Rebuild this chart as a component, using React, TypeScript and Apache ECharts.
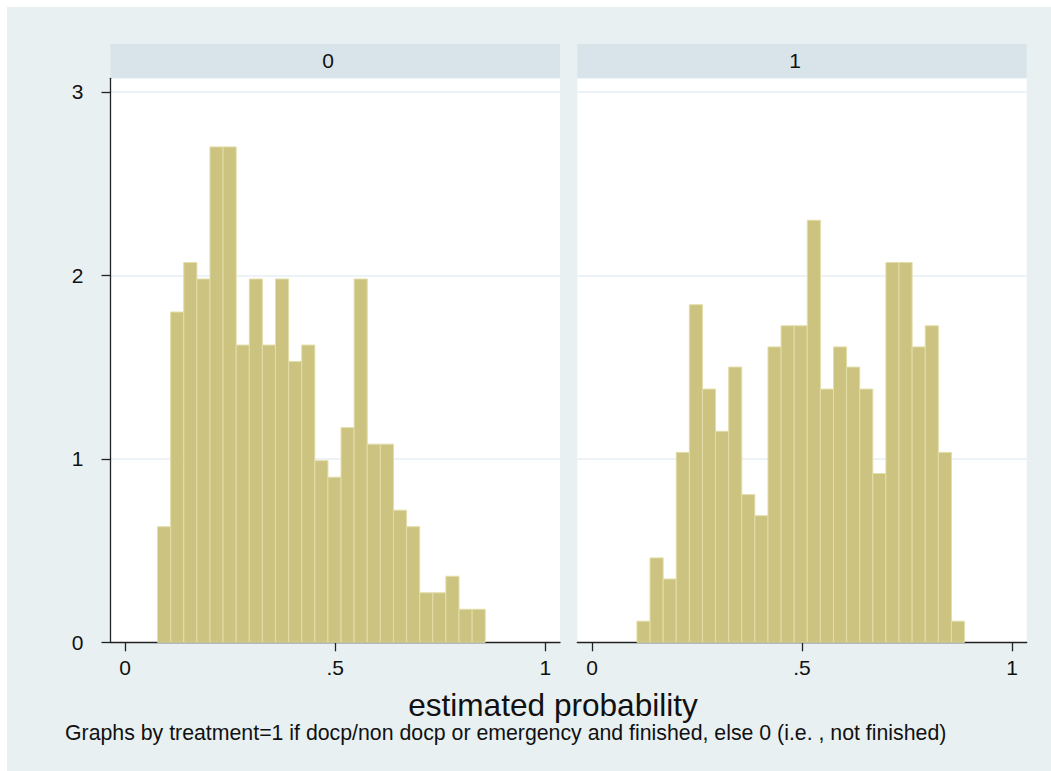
import React, { useEffect, useRef } from "react";
import * as echarts from "echarts";

const panelLabels = ["0", "1"];
const leftBinStart = 0.077;
const rightBinStart = 0.107;
const binWidth = 0.0312;
const leftDensity = [0.63, 1.8, 2.07, 1.98, 2.7, 2.7, 1.62, 1.98, 1.62, 1.98, 1.53, 1.62, 0.99, 0.9, 1.17, 1.98, 1.08, 1.08, 0.72, 0.63, 0.27, 0.27, 0.36, 0.18, 0.18];
const rightDensity = [0.115, 0.46, 0.345, 1.035, 1.84, 1.38, 1.15, 1.5, 0.805, 0.69, 1.61, 1.725, 1.725, 2.3, 1.38, 1.61, 1.5, 1.38, 0.92, 2.07, 2.07, 1.61, 1.725, 1.035, 0.115];
const xTicks = [0, 0.5, 1];
const yTicks = [0, 1, 2, 3];
const xTitle = "estimated probability";
const note = "Graphs by treatment=1 if docp/non docp or emergency and finished, else 0 (i.e. , not finished)";

const FONT = "'Liberation Sans', Arial, sans-serif";
const BG = "#E8F0F2";
const STRIP = "#D8E4EA";
const GRID = "#E6EEF2";
const AXIS = "#222222";
const FILL = "#CBC37F";
const EDGE = "#E3DDA8";

function bins(start: number, vals: number[]) {
  return vals.map((v, i) => [start + i * binWidth, start + (i + 1) * binWidth, v]);
}

const renderBar = (params: any, api: any) => {
  const p0 = api.coord([api.value(0), api.value(2)]);
  const p1 = api.coord([api.value(1), 0]);
  return {
    type: "rect",
    shape: { x: p0[0], y: p0[1], width: p1[0] - p0[0], height: p1[1] - p0[1] },
    style: { fill: FILL, stroke: EDGE, lineWidth: 1 },
  };
};

export default function App() {
  const ref = useRef<HTMLDivElement>(null);
  useEffect(() => {
    if (!ref.current) return;
    const chart = echarts.init(ref.current, undefined, { renderer: "svg" });
    const gridBase = { show: true, backgroundColor: "#FFFFFF", borderWidth: 0, top: 71.3, height: 564 };
    const grids = [
      { ...gridBase, left: 103.5, width: 449.5 },
      { ...gridBase, left: 570.3, width: 449.4 },
    ];
    const xAxisBase = (gi: number) => ({
      type: "value",
      gridIndex: gi,
      min: -0.035,
      max: 1.035,
      axisLine: { show: true, onZero: false, lineStyle: { color: AXIS, width: 1.3 } },
      axisTick: { show: true, customValues: xTicks, length: 9, lineStyle: { color: AXIS, width: 1.3 } },
      axisLabel: {
        customValues: xTicks,
        margin: 15,
        fontSize: 21,
        color: "#111",
        fontFamily: FONT,
        formatter: (v: number) => (v === 0.5 ? ".5" : String(v)),
      },
      splitLine: { show: false },
    });
    const yAxisBase = (gi: number, show: boolean) => ({
      type: "value",
      gridIndex: gi,
      min: 0,
      max: 3.074,
      interval: 1,
      axisLine: { show, onZero: false, lineStyle: { color: AXIS, width: 1.3 } },
      axisTick: { show, customValues: yTicks, length: 9, lineStyle: { color: AXIS, width: 1.3 } },
      axisLabel: {
        show,
        customValues: yTicks,
        margin: 27,
        fontSize: 21,
        color: "#111",
        fontFamily: FONT,
      },
      splitLine: { show: true, lineStyle: { color: GRID, width: 1.5 } },
    });
    const option: any = {
      animation: false,
      backgroundColor: BG,
      grid: grids,
      xAxis: [xAxisBase(0), xAxisBase(1)],
      yAxis: [yAxisBase(0, true), yAxisBase(1, false)],
      series: [
        {
          type: "custom",
          xAxisIndex: 0,
          yAxisIndex: 0,
          renderItem: renderBar,
          encode: { x: [0, 1], y: 2 },
          data: bins(leftBinStart, leftDensity),
        },
        {
          type: "custom",
          xAxisIndex: 1,
          yAxisIndex: 1,
          renderItem: renderBar,
          encode: { x: [0, 1], y: 2 },
          data: bins(rightBinStart, rightDensity),
        },
      ],
      graphic: [
        { type: "rect", left: 103.5, top: 37, shape: { width: 449.5, height: 34.3 }, style: { fill: STRIP } },
        { type: "rect", left: 570.3, top: 37, shape: { width: 449.4, height: 34.3 }, style: { fill: STRIP } },
        {
          type: "text",
          x: 321,
          y: 53,
          style: { text: panelLabels[0], fontSize: 21, fontFamily: FONT, fill: "#111", align: "center", verticalAlign: "middle" },
        },
        {
          type: "text",
          x: 788,
          y: 53,
          style: { text: panelLabels[1], fontSize: 21, fontFamily: FONT, fill: "#111", align: "center", verticalAlign: "middle" },
        },
        {
          type: "text",
          x: 546,
          y: 698,
          style: { text: xTitle, fontSize: 31.6, fontFamily: FONT, fill: "#111", align: "center", verticalAlign: "middle" },
        },
        {
          type: "text",
          x: 58,
          y: 726,
          style: { text: note, fontSize: 21.3, fontFamily: FONT, fill: "#111", align: "left", verticalAlign: "middle" },
        },
      ],
    };
    chart.setOption(option);
    return () => chart.dispose();
  }, []);
  return (
    <div
      ref={ref}
      style={{ position: "absolute", left: 7, top: 7, width: 1044, height: 764 }}
    />
  );
}
